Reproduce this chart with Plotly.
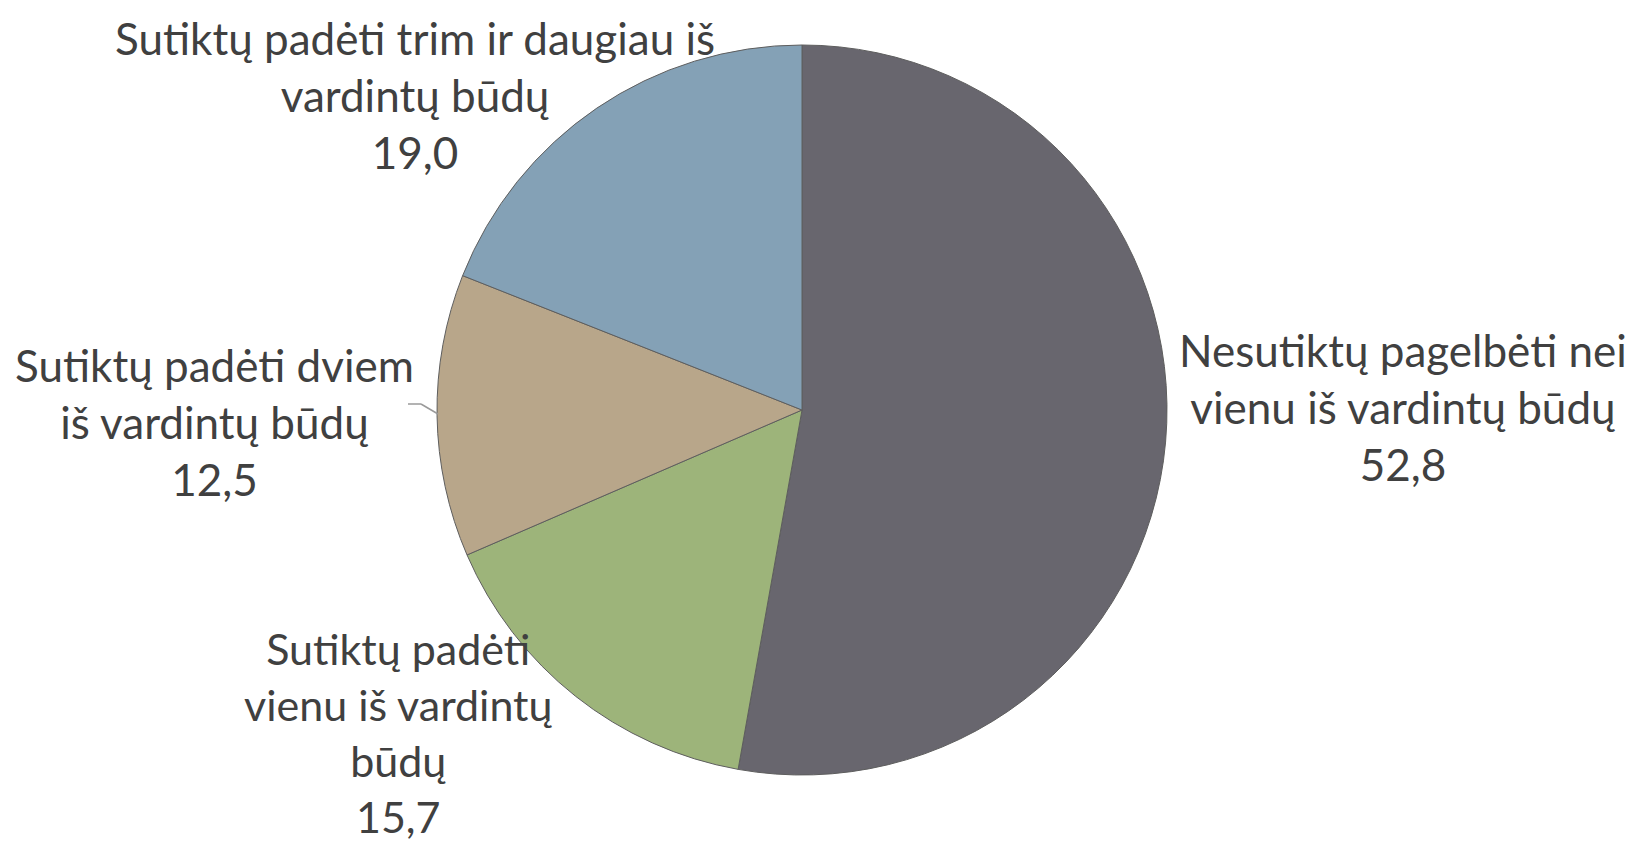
import plotly.graph_objects as go

# answer groups, clockwise from 12 o'clock
labels = [
    "Nesutiktų pagelbėti nei<br>vienu iš vardintų būdų",
    "Sutiktų padėti<br>vienu iš vardintų<br>būdų",
    "Sutiktų padėti dviem<br>iš vardintų būdų",
    "Sutiktų padėti trim ir daugiau iš<br>vardintų būdų",
]
values = [52.8, 15.7, 12.5, 19.0]
colors = ["#68666e", "#9db47a", "#b8a68a", "#84a1b6"]

W, H = 1636, 846

# label block centres in pixels from top-left
label_px = [(1395, 399), (390, 724), (207, 414), (407, 87)]
label_size = [44, 43, 44, 44]

cx, cy, r = 794, 402, 365

fig = go.Figure(go.Pie(
    labels=labels,
    values=values,
    sort=False,
    direction="clockwise",
    rotation=0,
    marker=dict(colors=colors, line=dict(color="#5e5e5e", width=1)),
    textinfo="none",
    hoverinfo="label+value",
    showlegend=False,
    domain=dict(x=[(cx - r) / W, (cx + r) / W],
                y=[(H - cy - r) / H, (H - cy + r) / H]),
))


def px(x, y):
    return x / W, 1 - y / H


for lab, val, (lx, ly), fs in zip(labels, values, label_px, label_size):
    x, y = px(lx, ly)
    fig.add_annotation(
        x=x, y=y, xref="paper", yref="paper",
        text=f"{lab}<br>{val:.1f}".replace(".", ","),
        showarrow=False, xanchor="center", yanchor="middle", align="center",
        font=dict(family="Lato", size=fs, color="#404040"),
    )

# leader line for the 12,5 label
pts = [px(400, 396), px(413, 396), px(430, 406)]
for (x0, y0), (x1, y1) in zip(pts[:-1], pts[1:]):
    fig.add_shape(type="line", xref="paper", yref="paper",
                  x0=x0, y0=y0, x1=x1, y1=y1,
                  line=dict(color="#9a9a9a", width=1.5))

fig.update_layout(
    width=W, height=H,
    margin=dict(l=0, r=0, t=0, b=0),
    paper_bgcolor="white",
    font=dict(family="Lato", color="#404040"),
)

fig.write_html("out.html")
